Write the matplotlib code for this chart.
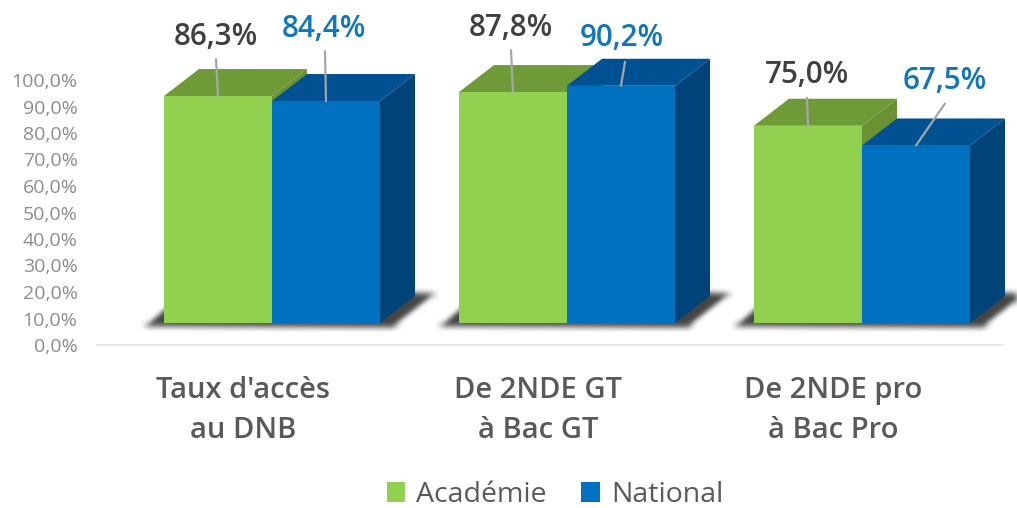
import matplotlib
matplotlib.use("Agg")
import matplotlib.pyplot as plt
import numpy as np
from matplotlib.patches import Polygon, Patch

categories = ["Taux d'accès\nau DNB", "De 2NDE GT\nà Bac GT", "De 2NDE pro\nà Bac Pro"]
academie = [86.3, 87.8, 75.0]
national = [84.4, 90.2, 67.5]
y_ticks = [0, 10, 20, 30, 40, 50, 60, 70, 80, 90, 100]

plt.rcParams['font.family'] = ['Open Sans', 'DejaVu Sans']

W, H = 1017, 508
fig = plt.figure(figsize=(W / 100, H / 100), dpi=100)
# plot area in pixels: x 97-1003, 0% at y=345, 100% at y=80
ax = fig.add_axes([97 / W, 1 - 345 / H, 906 / W, 265 / H])
px_x = 295.0
px_y = 2.65
ax.set_xlim((97 - 272) / px_x, (1003 - 272) / px_x)
ax.set_ylim(0, 100)

bar_w = 108 / px_x
floor = 22 / px_y
scale = 2.63 / px_y
dep_x = 35 / px_x
dep_y = 27 / px_y


def blur(img, dpi, r=3):
    # small box blur for the soft floor shadow
    pad = r * 4
    out = np.pad(img, ((pad, pad), (pad, pad), (0, 0)))
    kernel = np.ones(2 * r + 1) / (2 * r + 1)
    for _ in range(2):
        for axis in (0, 1):
            out = np.apply_along_axis(lambda m: np.convolve(m, kernel, mode='same'), axis, out)
    return out, -pad, -pad


def box(x0, val, front, top, side):
    x1 = x0 + bar_w
    y1 = floor + val * scale
    ax.add_patch(Polygon([(x1, floor), (x1 + dep_x, floor + dep_y), (x1 + dep_x, y1 + dep_y), (x1, y1)],
                         fc=side, ec='none', clip_on=False))
    ax.add_patch(Polygon([(x0, y1), (x0 + dep_x, y1 + dep_y), (x1 + dep_x, y1 + dep_y), (x1, y1)],
                         fc=top, ec='none', clip_on=False))
    ax.add_patch(Polygon([(x0, floor), (x1, floor), (x1, y1), (x0, y1)], fc=front, ec='none', clip_on=False))


def shadow(i):
    xl = i - bar_w
    xr = i + bar_w
    pts = [(xl - 20 / px_x, floor - 3 / px_y),
           (xl + 4 / px_x, floor + 18 / px_y),
           (xr + 33 / px_x, floor + 30 / px_y),
           (xr + 56 / px_x, floor + 29 / px_y),
           (xr + 14 / px_x, floor - 4 / px_y)]
    p = Polygon(pts, fc='#303030', ec='none', alpha=0.9, clip_on=False)
    p.set_agg_filter(blur)
    ax.add_patch(p)


for i in range(len(categories)):
    shadow(i)
    # green first: the blue box hides whatever of it overlaps
    box(i - bar_w, academie[i], '#92D050', '#6E9A38', '#6A9233')
    box(i, national[i], '#0070C0', '#005191', '#004479')

# label and leader offsets, in px, relative to the front top centre of each bar
acad_lab = [(-2, -59), (-2, -64), (-1, -51)]
acad_lead = [(-2, -37), (-2, -42), (-1, -28)]
nat_lab = [(-2, -72), (1, -48), (29, -64)]
nat_lead = [(-1, -50), (4, -24), (29, -42)]


def label(x, val, lab, lead, color):
    y = floor + val * scale
    ax.annotate('', xy=(x, y), xytext=(x + lead[0] / px_x, y - lead[1] / px_y),
                arrowprops=dict(arrowstyle='-', color='#a6a6a6', lw=1.6, shrinkA=0, shrinkB=0))
    ax.text(x + lab[0] / px_x, y - lab[1] / px_y, f"{val:.1f}%".replace('.', ','),
            ha='center', va='center', fontsize=21.3, fontweight='semibold', color=color)


for i in range(len(categories)):
    label(i - bar_w / 2, academie[i], acad_lab[i], acad_lead[i], '#404040')
    label(i + bar_w / 2, national[i], nat_lab[i], nat_lead[i], '#0F75BD')

for s in ['top', 'left', 'right']:
    ax.spines[s].set_visible(False)
ax.spines['bottom'].set_color('#e4e4e4')
ax.spines['bottom'].set_linewidth(1.2)

ax.set_yticks(y_ticks)
ax.set_yticklabels([f"{v},0%" for v in y_ticks], fontsize=14, color='#8c8c8c')
ax.tick_params(axis='y', length=0, pad=14)
# category labels sit left of the bar pair centre
ax.set_xticks([i - 29 / px_x for i in range(len(categories))])
ax.set_xticklabels(categories, fontsize=21, fontweight='semibold', color='#595959', linespacing=1.5)
ax.tick_params(axis='x', length=0, pad=22)

handles = [Patch(fc='#92D050', label='Académie'), Patch(fc='#0070C0', label='National')]
fig.legend(handles=handles, loc='center', bbox_to_anchor=(555 / W, 1 - 495 / H), ncol=2, frameon=False,
           fontsize=20.5, labelcolor='#595959', handlelength=0.65, handleheight=0.65,
           handletextpad=0.4, columnspacing=1.2, borderpad=0)

fig.savefig('out.png', dpi=100)
